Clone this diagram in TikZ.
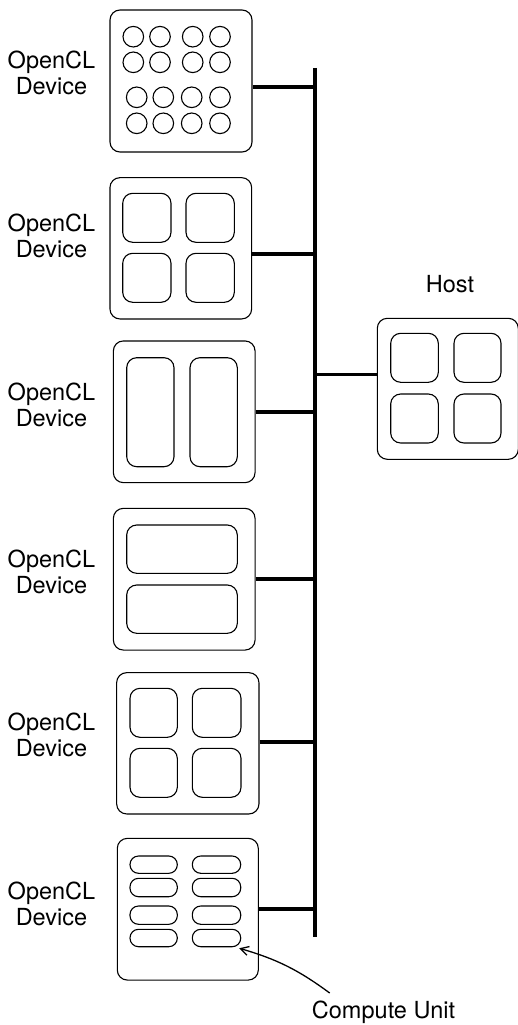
\documentclass[tikz,border=0pt]{standalone}
\usepackage{fontspec}
\setmainfont{TeX Gyre Heros}
\usetikzlibrary{arrows.meta}
\begin{document}
\begin{tikzpicture}[x=1pt,y=-1pt,
  devbox/.style={draw, line width=1.1pt, rounded corners=10pt, inner sep=0pt},
  part/.style={draw, line width=1.1pt, rounded corners=10pt},
  pill/.style={draw, line width=1.1pt, rounded corners=8.5pt},
  cu/.style={draw, line width=1.1pt, rounded corners=8.5pt, inner sep=0pt, minimum width=48.4pt, minimum height=17.4pt},
  lbl/.style={align=center, inner sep=0pt, font=\fontsize{23.5}{25.5}\selectfont},
  busline/.style={line width=4pt},
  conn/.style={line width=4pt},
  hconn/.style={line width=3.3pt},
  pointer/.style={line width=1.3pt, -{Straight Barb[length=8pt,width=9pt]}}
]
\useasboundingbox (0,0) rectangle (517,1025);
% devices
\node[devbox, minimum width=142pt, minimum height=142pt] (d1) at (181,81) {};
\node[devbox, minimum width=141.7pt, minimum height=141.3pt] (d2) at (180.8,248.3) {};
\node[devbox, minimum width=141.7pt, minimum height=141.7pt] (d3) at (184.2,411.8) {};
\node[devbox, minimum width=141.7pt, minimum height=141.7pt] (d4) at (184.2,579.2) {};
\node[devbox, minimum width=142.3pt, minimum height=141.3pt] (d5) at (187.8,743.3) {};
\node[devbox, minimum width=141pt, minimum height=141.7pt] (d6) at (187.8,909.2) {};
\node[devbox, minimum width=141pt, minimum height=141pt] (host) at (447.8,388.8) {};
% labels
\node[lbl] (l1) at (51.5,73) {OpenCL\\Device};
\node[lbl] (l2) at (51.5,236) {OpenCL\\Device};
\node[lbl] (l3) at (51.5,405) {OpenCL\\Device};
\node[lbl] (l4) at (51.5,572) {OpenCL\\Device};
\node[lbl] (l5) at (51.5,735) {OpenCL\\Device};
\node[lbl] (l6) at (51.5,904) {OpenCL\\Device};
\node[lbl] (hl) at (450,284) {Host};
\node[lbl, anchor=north west] (cul) at (311.7,1001) {Compute Unit};
% device 1: circles
\foreach \x in {133.3,160,192.7,220} {
  \foreach \y in {36.7,62.3} { \draw[line width=1.1pt] (\x,\y) circle (10.3); }
}
\foreach \x in {136.7,163.3,191.7,220} {
  \foreach \y in {97.3,123.3} { \draw[line width=1.1pt] (\x,\y) circle (10.3); }
}
% device 2: 4 squares
\draw[part] (122.7,193.3) rectangle (171,242.3);
\draw[part] (186,193.3) rectangle (234.3,242.3);
\draw[part] (122.7,253.3) rectangle (171,302.3);
\draw[part] (186,253.3) rectangle (234.3,302.3);
% device 3: 2 tall
\draw[part] (126.7,357.7) rectangle (174,466.7);
\draw[part] (190,357.7) rectangle (237.3,466.7);
% device 4: 2 wide
\draw[part] (126.7,525) rectangle (237.3,573.3);
\draw[part] (126.7,585) rectangle (237.3,633.3);
% device 5: 4 squares
\draw[part] (130,688.3) rectangle (177.3,737.3);
\draw[part] (192.3,688.3) rectangle (241,737.3);
\draw[part] (130,748.3) rectangle (177.3,797.3);
\draw[part] (192.3,748.3) rectangle (241,797.3);
% device 6: pills
\foreach \ya/\yb in {856/873.3,878.3/896.7,906/924.3} {
  \draw[pill] (130,\ya) rectangle (177.3,\yb);
  \draw[pill] (192.3,\ya) rectangle (240.7,\yb);
}
\draw[pill] (130,929.3) rectangle (177.3,946.7);
\node[cu] (cu) at (216.5,938) {};
% host: 4 squares
\draw[part] (390.7,333.3) rectangle (438.3,382.3);
\draw[part] (454,333.3) rectangle (501,382.3);
\draw[part] (390.7,394) rectangle (438.3,443);
\draw[part] (454,394) rectangle (501,443);
% bus
\coordinate (bt) at (315,68);
\coordinate (bb) at (315,937);
\draw[busline] (bt) -- (bb);
\draw[conn] ([yshift=-6pt]d1.east) -- ([yshift=-6pt]d1.east -| bt);
\draw[conn] ([yshift=-6pt]d2.east) -- ([yshift=-6pt]d2.east -| bt);
\draw[conn] (d3.east) -- (d3.east -| bt);
\draw[conn] (d4.east) -- (d4.east -| bt);
\draw[conn] ([yshift=1.5pt]d5.east) -- ([yshift=1.5pt]d5.east -| bt);
\draw[conn] (d6.east) -- (d6.east -| bt);
\draw[hconn] ([yshift=14.5pt]host.west) -- ([yshift=14.5pt]host.west -| bt);
% pointer
\draw[pointer] ([xshift=18pt,yshift=8pt]cul.north west) to[bend right=10] ([xshift=-2pt,yshift=-1pt]cu.south east);
\end{tikzpicture}
\end{document}
